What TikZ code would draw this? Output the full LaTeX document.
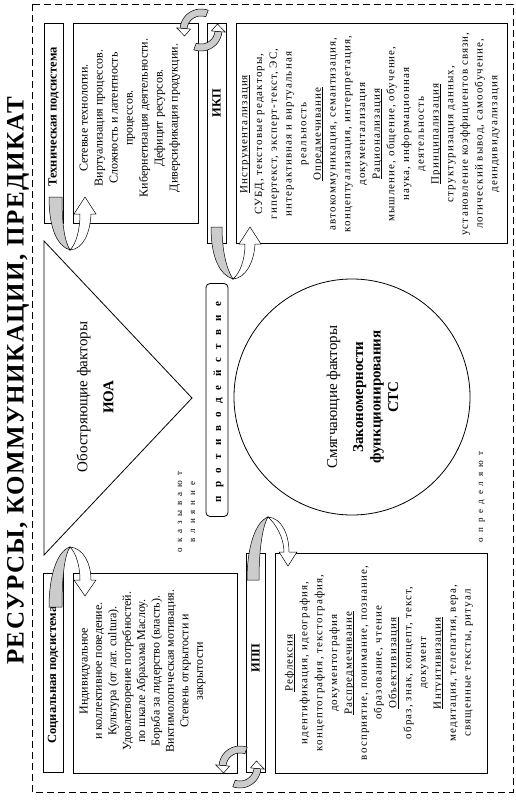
\documentclass[tikz,border=0pt]{standalone}
\usepackage{fontspec}
\setmainfont{Liberation Serif}
\newfontfamily\widefam[LetterSpace=10]{Liberation Serif}
\newcommand\ulw[1]{\leavevmode\setbox0\hbox{#1}\rlap{\rule[-2pt]{\wd0}{0.6pt}}\box0}
\newcommand\cirarrows{%
 \filldraw[arrband] plot[domain=290:185,samples=24] ({21*cos(\x)},{21*sin(\x)}) -- plot[domain=185:290,samples=24] ({14*cos(\x)},{14*sin(\x)}) -- cycle;
 \filldraw[arrhead] (185:24.5) -- (160:17.5) -- (185:10.5) -- cycle;
 \filldraw[arrband] plot[domain=110:5,samples=24] ({21*cos(\x)},{21*sin(\x)}) -- plot[domain=5:110,samples=24] ({14*cos(\x)},{14*sin(\x)}) -- cycle;
 \filldraw[arrhead] (5:24.5) -- (-20:17.5) -- (5:10.5) -- cycle;
}
\begin{document}
\begin{tikzpicture}[x=1pt,y=-1pt,
  box/.style={draw, line width=0.8pt, inner sep=0pt},
  rot/.style={rotate=90, align=center, inner sep=0pt},
  sertext/.style={font=\fontsize{12}{15}\selectfont},
  lbltext/.style={font=\bfseries\fontsize{12.5}{14}\selectfont},
  widetext/.style={font=\widefam\fontsize{11}{14.7}\selectfont},
  bigtext/.style={font=\fontsize{15}{17.5}\selectfont},
  arrband/.style={fill=gray!40, draw=black, line width=0.5pt},
  arrhead/.style={fill=white, draw=black, line width=0.5pt},
  uwhite/.style={fill=white, draw=black, line width=0.5pt}]
\useasboundingbox (0,0) rectangle (516,801);
\fill[white] (0,0) rectangle (516,801);
% outer dashed frame
\draw[line width=0.6pt, dash pattern=on 7pt off 4pt] (32,4) rectangle (513,792);
% title
\node[rot, font=\bfseries\fontsize{25}{25}\selectfont\addfontfeature{LetterSpace=6}] (title) at (18,381) {РЕСУРСЫ, КОММУНИКАЦИИ, ПРЕДИКАТ};
% boxes
\node[box, minimum width=19pt, minimum height=200pt] (techlbl) at (53.5,123) {};
\node[box, minimum width=125pt, minimum height=200pt] (techbox) at (135.5,123) {};
\node[box, minimum width=19pt, minimum height=220pt] (ikplbl) at (216.5,133) {};
\node[box, minimum width=271pt, minimum height=220pt] (ikpbox) at (371.5,133) {};
\node[box, minimum width=20pt, minimum height=199pt] (soclbl) at (53,672.5) {};
\node[box, minimum width=164pt, minimum height=200pt] (socbox) at (155,673) {};
\node[box, minimum width=19pt, minimum height=219pt] (ipplbl) at (255.5,662.5) {};
\node[box, minimum width=212pt, minimum height=220pt] (ippbox) at (381,663) {};
% labels
\node[rot, lbltext, anchor=east] (techlbltxt) at (techlbl.center |- 0,47) {Техническая подсистема};
\node[rot, lbltext] (soclbltxt) at (53,675) {Социальная подсистема};
\node[rot, lbltext] (ikplbltxt) at (216.5,103) {ИКП};
\node[rot, lbltext] (ipplbltxt) at (255.5,658) {ИПП};
% texts
\node[rot, sertext] (techtxt) at (130,118) {Сетевые технологии.\\Виртуализация процессов.\\Сложность и латентность\\процессов.\\Кибернетизация деятельности.\\Дефицит ресурсов.\\Диверсификация продукции.};
\node[rot, font=\fontsize{12}{14.4}\selectfont] (soctxt) at (142.5,671) {Индивидуальное\\и коллективное поведение.\\Культура (от лат. cultura).\\Удовлетворение потребностей.\\по шкале Абрахама Маслоу.\\Борьба за лидерство (власть).\\Виктимологическая мотивация.\\Степень открытости и\\закрытости};
\node[rot, widetext] (ikptxt) at (370,134) {\ulw{Инструментализация}\\СУБД, текстовые редакторы,\\гипертекст, эксперт-текст, ЭС,\\интерактивная и виртуальная\\реальность\\\ulw{Опредмечивание}\\автокоммуникация, семантизация,\\концептуализация, интерпретация,\\документализация\\\ulw{Рационализация}\\мышление, общение, обучение,\\наука, информационная\\деятельность\\\ulw{Принципализация}\\структуризация данных,\\установление коэффициентов связи,\\логический вывод, самообучение,\\деиндивидуализация};
\node[rot, font=\widefam\fontsize{11}{14.83}\selectfont] (ipptxt) at (379,663) {\ulw{Рефлексия}\\идентификация, идеография,\\концептография, текстография,\\документография\\\ulw{Распредмечивание}\\восприятие, понимание, познание,\\образование, чтение\\\ulw{Объективизация}\\образ, знак, концепт, текст,\\документ\\\ulw{Интуитивизация}\\медитация, телепатия, вера,\\священные тексты, ритуал};
% triangle
\draw[line width=0.8pt] (44,241) -- (192,398) -- (44,555) -- cycle;
\node[rot, bigtext] (tritxt) at (95,397) {Обостряющие факторы\\[8.5pt]\bfseries ИОА};
% circle
\node[draw, circle, line width=0.8pt, minimum size=236pt, inner sep=0pt] (circ) at (352,397) {};
\node[rot, bigtext] (circtxt) at (362.5,397) {Смягчающие факторы\\[8.5pt]\bfseries Закономерности\\\bfseries функционирования\\\bfseries СТС};
% counteraction
\node[rot, draw, line width=0.8pt, rounded corners=4pt, minimum width=233pt, minimum height=22pt] (protiv) at (217,400) {};
\node[rot, font=\bfseries\fontsize{11}{11}\selectfont\addfontfeature{LetterSpace=75}] (protivtxt) at (218.5,402) {противодействие};
\node[rot, font=\fontsize{9}{13}\selectfont\addfontfeature{LetterSpace=55}] (vliyan) at (186.5,512) {оказывают\\влияние};
\node[rot, font=\fontsize{9}{10}\selectfont\addfontfeature{LetterSpace=55}] (opred) at (482,497) {определяют};
% U-turn arrows
\filldraw[arrband] (49,197) .. controls (49,228) and (57,246) .. (70,250) .. controls (64,240) and (62,222) .. (62,197) -- cycle;
\filldraw[uwhite] (70,250) .. controls (83,249) and (90,234) .. (91,214) -- (96,214) -- (85,197) -- (74,214) -- (80,214) .. controls (80,230) and (76,244) .. (70,250) -- cycle;
\filldraw[arrband] (211,227) .. controls (211,258) and (220,275) .. (233,279) .. controls (227,270) and (222,252) .. (222,227) -- cycle;
\filldraw[uwhite] (233,279) .. controls (246,278) and (254,262) .. (255,244) -- (261,244) -- (250,227) -- (239,244) -- (245,244) .. controls (245,260) and (240,273) .. (233,279) -- cycle;
\filldraw[arrband] (49,607) .. controls (49,576) and (57,551) .. (70,547) .. controls (64,556) and (62,580) .. (62,607) -- cycle;
\filldraw[uwhite] (70,547) .. controls (83,548) and (91,563) .. (91,580) -- (96,580) -- (85,596) -- (74,580) -- (80,580) .. controls (80,566) and (76,553) .. (70,547) -- cycle;
\filldraw[arrband] (247,580) .. controls (247,548) and (255,522) .. (268,517) .. controls (262,527) and (259,552) .. (259,580) -- cycle;
\filldraw[uwhite] (268,517) .. controls (282,518) and (289,535) .. (289,552) -- (297,552) -- (288,566) -- (279,552) -- (284,552) .. controls (284,538) and (276,524) .. (268,517) -- cycle;
% circular arrows
\begin{scope}[shift={(201,30)}]\cirarrows\end{scope}
\begin{scope}[shift={(240,767)}]\cirarrows\end{scope}
\end{tikzpicture}
\end{document}
